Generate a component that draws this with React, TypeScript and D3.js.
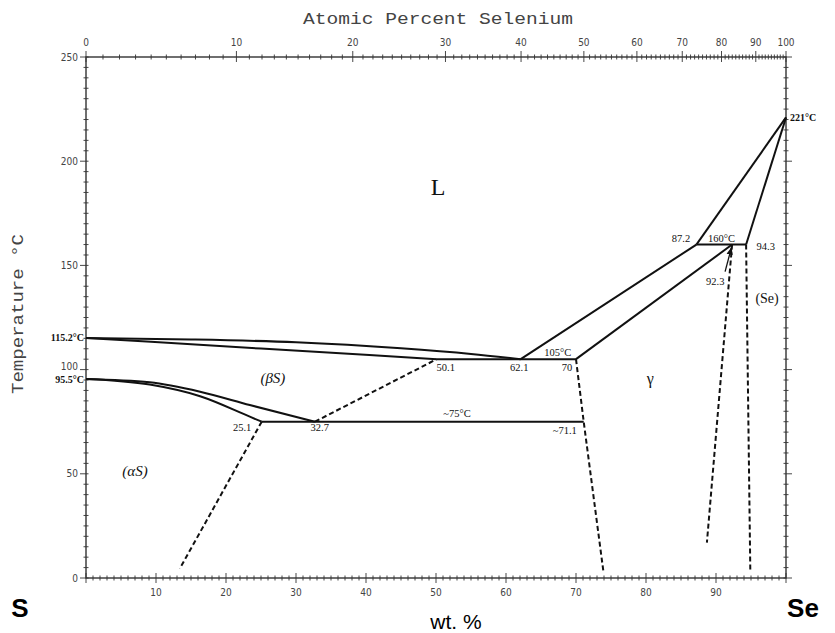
import React from "react";
import * as d3 from "d3";

// ---------- data ----------
const wtTicks = [10, 20, 30, 40, 50, 60, 70, 80, 90];
const atTicks = [0, 10, 20, 30, 40, 50, 60, 70, 80, 90, 100];
const tempTicks = [0, 50, 100, 150, 200, 250];

// solid phase boundaries [wt% Se, T °C]
const liquidusS: [number, number][] = [[0, 115.2], [15, 114.5], [30, 113.1], [45, 110.2], [55, 107.5], [62.1, 105]];
const solidusBetaS: [number, number][] = [[0, 115.2], [25, 110.1], [50.1, 105]];
const eutectic105: [number, number][] = [[50.1, 105], [70, 105]];
const liquidusGamma: [number, number][] = [[62.1, 105], [87.2, 160]];
const solidusGamma: [number, number][] = [[70, 105], [92.3, 160]];
const peritectic160: [number, number][] = [[87.2, 160], [94.3, 160]];
const liquidusSe: [number, number][] = [[87.2, 160], [100, 221]];
const solidusSe: [number, number][] = [[94.3, 160], [100, 221]];
const alphaLower: [number, number][] = [[0, 95.5], [9.1, 92.8], [16.3, 87.2], [23.4, 77.4], [25.1, 75]];
const alphaUpper: [number, number][] = [[0, 95.5], [9.1, 93.9], [16.3, 89.4], [23.4, 83], [32.7, 75]];
const eutectoid75: [number, number][] = [[25.1, 75], [71.1, 75]];

// dashed boundaries
const dashAlpha: [number, number][] = [[25.1, 75], [13.4, 4.5]];
const dashBeta: [number, number][] = [[32.7, 75], [50.1, 105]];
const dashGamma: [number, number][] = [[70, 105], [71.1, 75], [73.9, 3.5]];
const dashGammaSe: [number, number][] = [[92.3, 160], [88.7, 17]];
const dashSe: [number, number][] = [[94.3, 160], [94.9, 3.5]];

// annotations [wt%, T, text]
const pointLabels: [number, number, string][] = [
  [51.4, 101.2, "50.1"],
  [61.9, 101.2, "62.1"],
  [67.4, 108.4, "105°C"],
  [68.7, 101.2, "70"],
  [53, 78.7, "~75°C"],
  [22.3, 72, "25.1"],
  [33.4, 72, "32.7"],
  [68.4, 71, "~71.1"],
  [89.9, 142.5, "92.3"],
  [85, 163.1, "87.2"],
  [90.8, 163.1, "160°C"],
  [97.1, 159.3, "94.3"],
];
const phaseLabels: [number, number, string, number, string][] = [
  [50.3, 188, "L", 24, "normal"],
  [26.7, 96.2, "(βS)", 15, "italic"],
  [7, 51.6, "(αS)", 15, "italic"],
  [80.6, 96, "γ", 16, "normal"],
  [97.3, 134.2, "(Se)", 14, "normal"],
];

// ---------- layout ----------
const W = 835;
const H = 633;
const x = d3.scaleLinear().domain([0, 100]).range([86, 786]);
const y = d3.scaleLinear().domain([0, 250]).range([578, 57]);
const atToWt = (a: number) => (100 * a * 78.97) / (a * 78.97 + (100 - a) * 32.06);

const line = d3
  .line<[number, number]>()
  .x((d) => x(d[0]))
  .y((d) => y(d[1]))
  .curve(d3.curveMonotoneX);
const straight = d3
  .line<[number, number]>()
  .x((d) => x(d[0]))
  .y((d) => y(d[1]));

const AXIS = "#333";
const INK = "#111";
const tickFont = "'Liberation Sans Narrow','DejaVu Sans Condensed',Arial,sans-serif";
const annoFont = "'Liberation Serif','DejaVu Serif',serif";
const titleFont = "'Liberation Mono','DejaVu Sans Mono',monospace";

export default function App() {
  const minorWt = d3.range(0, 101, 1);
  const minorAt = d3.range(0, 101, 1);
  const minorT = d3.range(0, 251, 5);

  const solids = [
    { d: liquidusS, c: true },
    { d: solidusBetaS, c: true },
    { d: eutectic105, c: false },
    { d: liquidusGamma, c: false },
    { d: solidusGamma, c: false },
    { d: peritectic160, c: false },
    { d: liquidusSe, c: false },
    { d: solidusSe, c: false },
    { d: alphaLower, c: true },
    { d: alphaUpper, c: true },
    { d: eutectoid75, c: false },
  ];
  const dashes = [dashAlpha, dashBeta, dashGamma, dashGammaSe, dashSe];

  const x0 = x(0), x1 = x(100), yT = y(250), yB = y(0);

  return (
    <svg
      width={W}
      height={H}
      viewBox={`0 0 ${W} ${H}`}
      style={{ position: "absolute", left: 0, top: 0, background: "#fff" }}
    >
      <defs>
        <marker id="arr" viewBox="0 0 10 10" refX="9" refY="5" markerWidth="6" markerHeight="6" orient="auto">
          <path d="M0,1 L10,5 L0,9 Z" fill={INK} />
        </marker>
      </defs>
      <rect x={0} y={0} width={W} height={H} fill="#fff" />

      {/* frame */}
      <rect x={x0} y={yT} width={x1 - x0} height={yB - yT} fill="none" stroke={AXIS} strokeWidth={1.4} />

      {/* bottom ticks */}
      {minorWt.map((v) => (
        <line key={"bw" + v} x1={x(v)} x2={x(v)} y1={yB - (v % 10 === 0 ? 5 : 2.5)} y2={yB + (v % 10 === 0 ? 5 : 2.5)} stroke={AXIS} strokeWidth={0.9} />
      ))}
      {wtTicks.map((v) => (
        <text key={"bl" + v} x={x(v)} y={yB + 18} textAnchor="middle" fontSize={10} fontFamily={tickFont} fill="#444">
          {v}
        </text>
      ))}

      {/* top ticks (atomic %) */}
      {minorAt.map((v) => (
        <line key={"ta" + v} x1={x(atToWt(v))} x2={x(atToWt(v))} y1={yT - (v % 10 === 0 ? 6 : 2.5)} y2={yT + (v % 10 === 0 ? 5 : 2.5)} stroke={AXIS} strokeWidth={0.9} />
      ))}
      {atTicks.map((v) => (
        <text key={"tl" + v} x={x(atToWt(v))} y={yT - 11} textAnchor="middle" fontSize={10} fontFamily={tickFont} fill="#444">
          {v}
        </text>
      ))}

      {/* left / right ticks */}
      {minorT.map((v) => (
        <g key={"lt" + v}>
          <line x1={x0 - (v % 50 === 0 ? 6 : 2.5)} x2={x0 + 2.5} y1={y(v)} y2={y(v)} stroke={AXIS} strokeWidth={0.9} />
          <line x1={x1 - 2.5} x2={x1 + (v % 50 === 0 ? 6 : 2.5)} y1={y(v)} y2={y(v)} stroke={AXIS} strokeWidth={0.9} />
        </g>
      ))}
      {tempTicks.map((v) => (
        <text key={"ll" + v} x={x0 - 8} y={y(v) + (v === 100 ? 0 : 3.5)} textAnchor="end" fontSize={10} fontFamily={tickFont} fill="#444">
          {v}
        </text>
      ))}

      {/* axis titles */}
      <text x={438} y={24} textAnchor="middle" fontSize={16} fontFamily={titleFont} fill="#444" textLength={270} lengthAdjust="spacingAndGlyphs">
        Atomic Percent Selenium
      </text>
      <text
        transform="translate(23,314) rotate(-90)"
        textAnchor="middle"
        fontSize={16}
        fontFamily={titleFont}
        fill="#444"
        textLength={160}
        lengthAdjust="spacingAndGlyphs"
      >
        Temperature °C
      </text>
      <text x={20} y={617} textAnchor="middle" fontSize={26} fontWeight="bold" fontFamily="'Liberation Sans',Arial,sans-serif" fill="#000">
        S
      </text>
      <text x={803} y={617} textAnchor="middle" fontSize={26} fontWeight="bold" fontFamily="'Liberation Sans',Arial,sans-serif" fill="#000">
        Se
      </text>
      <text x={456} y={629} textAnchor="middle" fontSize={21} fontFamily="'Liberation Sans Narrow','Liberation Sans',Arial,sans-serif" fill="#000">
        wt. %
      </text>

      {/* phase boundaries */}
      {solids.map((s, i) => (
        <path key={"s" + i} d={(s.c ? line : straight)(s.d) || ""} fill="none" stroke={INK} strokeWidth={2} />
      ))}
      {dashes.map((d, i) => (
        <path key={"d" + i} d={straight(d) || ""} fill="none" stroke={INK} strokeWidth={2} strokeDasharray="5,3" />
      ))}

      {/* arrow to 92.3 */}
      <line x1={x(91.3)} y1={y(147)} x2={x(92.2)} y2={y(158.5)} stroke={INK} strokeWidth={1.3} markerEnd="url(#arr)" />

      {/* special temperature labels */}
      <text x={x0 - 2} y={y(115.2) + 3.5} textAnchor="end" fontSize={10} fontWeight="bold" fontFamily={annoFont} fill={INK}>
        115.2°C
      </text>
      <text x={x0 - 2} y={y(95.5) + 4} textAnchor="end" fontSize={10} fontWeight="bold" fontFamily={annoFont} fill={INK}>
        95.5°C
      </text>
      <text x={x1 + 4} y={y(221) + 3.5} textAnchor="start" fontSize={10} fontWeight="bold" fontFamily={annoFont} fill={INK}>
        221°C
      </text>

      {pointLabels.map(([w, t, s], i) => (
        <text key={"p" + i} x={x(w)} y={y(t) + 3.5} textAnchor="middle" fontSize={10.5} fontFamily={annoFont} fill={INK}>
          {s}
        </text>
      ))}
      {phaseLabels.map(([w, t, s, fs, st], i) => (
        <text key={"ph" + i} x={x(w)} y={y(t) + fs * 0.35} textAnchor="middle" fontSize={fs} fontStyle={st} fontFamily={annoFont} fill={INK}>
          {s}
        </text>
      ))}
    </svg>
  );
}
